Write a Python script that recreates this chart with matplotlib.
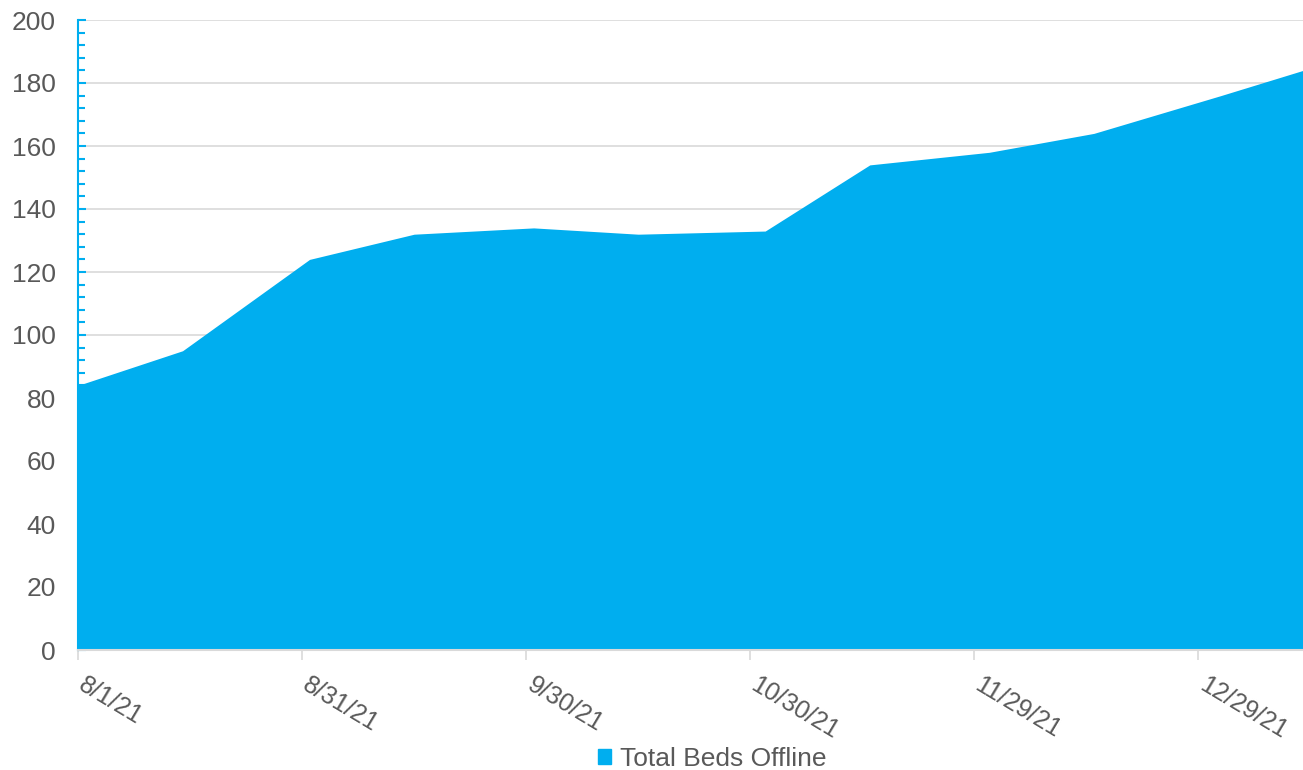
import numpy as np
import pandas as pd
import matplotlib
matplotlib.use("Agg")
import matplotlib.pyplot as plt
import matplotlib.transforms as mtransforms
from matplotlib.patches import Patch

plt.rcParams['font.family'] = ['Liberation Sans', 'DejaVu Sans']

# data
dates = ['2021-08-01', '2021-08-15', '2021-09-01', '2021-09-15', '2021-10-01',
         '2021-10-15', '2021-11-01', '2021-11-15', '2021-12-01', '2021-12-15',
         '2022-01-01', '2022-01-12']
beds_offline = [84, 95, 124, 132, 134, 132, 133, 154, 158, 164, 176, 184]
series_name = 'Total Beds Offline'

blue = '#00AEEF'
grid = '#D9D9D9'
txt = '#595959'
fs = 19

x = pd.to_datetime(dates)

fig = plt.figure(figsize=(13.03, 7.70), dpi=100)
ax = fig.add_axes([78 / 1303, 120 / 770, 1 - 78 / 1303, 630 / 770])

ax.fill_between(x, beds_offline, 0, color=blue, linewidth=0, zorder=2)

ax.set_xlim(x[0], x[-1])
ax.set_ylim(0, 200)

# y axis
ax.set_yticks(np.arange(0, 201, 20))
ax.yaxis.set_minor_locator(matplotlib.ticker.MultipleLocator(4))
ax.tick_params(axis='y', which='both', direction='in', color=blue, width=1.5,
               labelsize=fs, labelcolor=txt, pad=16)
ax.tick_params(axis='y', which='major', length=6)
ax.tick_params(axis='y', which='minor', length=5)
ax.yaxis.grid(True, color=grid, linewidth=1.2, zorder=0)
ax.set_axisbelow(True)

# x axis: majors every 30 days, minors weekly
major_ticks = pd.date_range('2021-08-01', '2022-01-12', freq='30D')
minor_ticks = pd.date_range('2021-08-01', '2022-01-12', freq='7D')
ax.set_xticks(major_ticks)
ax.set_xticks(minor_ticks, minor=True)
ax.set_xticklabels([d.strftime('%-m/%-d/%y') for d in major_ticks],
                   rotation=-31, ha='left', va='top', rotation_mode='anchor')
ax.tick_params(axis='x', which='major', direction='out', length=7, width=1.2,
               color=grid, labelsize=18, labelcolor=txt, pad=9)
ax.tick_params(axis='x', which='minor', direction='in', length=5, width=1.2,
               color=grid)
shift = mtransforms.ScaledTranslation(9 / 100, 0, fig.dpi_scale_trans)
for lab in ax.get_xticklabels():
    lab.set_transform(lab.get_transform() + shift)

for s in ['top', 'right']:
    ax.spines[s].set_visible(False)
ax.spines['left'].set_color(blue)
ax.spines['left'].set_linewidth(1.5)
ax.spines['bottom'].set_color(grid)
ax.spines['bottom'].set_linewidth(1.5)
ax.spines['left'].set_zorder(3)
ax.spines['bottom'].set_zorder(3)

fig.legend(handles=[Patch(color=blue, label=series_name)], loc='lower center',
           bbox_to_anchor=(0.5465, -0.032), frameon=False, fontsize=fs,
           handlelength=0.5, handleheight=0.5, handletextpad=0.35,
           labelcolor=txt)

fig.savefig('out.png', dpi=100)
